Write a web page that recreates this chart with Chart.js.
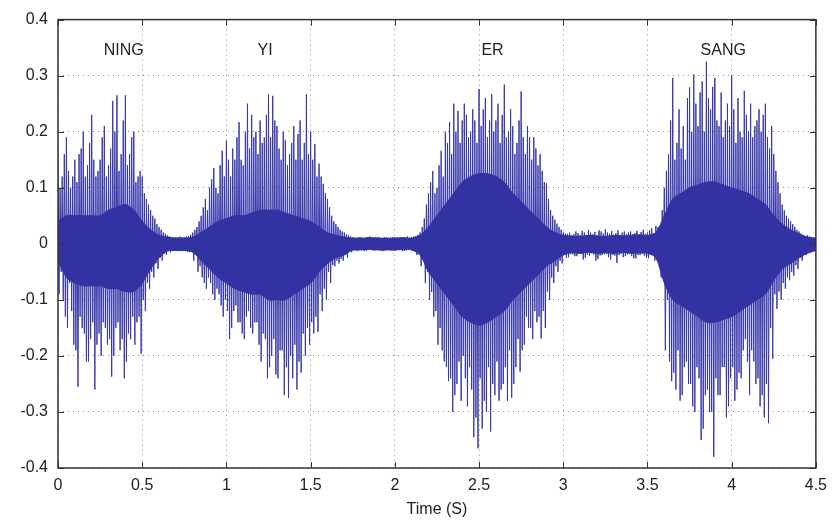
<!DOCTYPE html>
<html lang="en">
<head>
<meta charset="UTF-8" />
<title>NING YI ER SANG waveform</title>
<script src="https://cdn.jsdelivr.net/npm/chart.js"></script>
<style>
    * { margin: 0; padding: 0; box-sizing: border-box; }
    body { background: #fff; }
    #wrap { width: 835px; height: 523px; }
</style>
</head>
<body>
<div id="wrap"><canvas id="wave"></canvas></div>
<script>
// big peaks read every 0.025 s: upper at t, lower at t + 3/4 step
const STEP = 0.025;
const peakHi = [
    0.15, 0.12, 0.19, 0.10, 0.15, 0.16, 0.20, 0.14, 0.23, 0.12,
    0.15, 0.21, 0.14, 0.255, 0.265, 0.16, 0.265, 0.16, 0.20, 0.12,
    0.12, 0.08, 0.06, 0.045, 0.03, 0.02, 0.015, 0.012, 0.012, 0.013,
    0.012, 0.014, 0.02, 0.03, 0.05, 0.08, 0.10, 0.135, 0.09, 0.166,
    0.184, 0.12, 0.15, 0.217, 0.14, 0.25, 0.23, 0.20, 0.22, 0.19,
    0.267, 0.264, 0.21, 0.15, 0.185, 0.16, 0.21, 0.196, 0.15, 0.267,
    0.20, 0.178, 0.143, 0.107, 0.08, 0.05, 0.035, 0.025, 0.02, 0.015,
    0.012, 0.011, 0.012, 0.010, 0.013, 0.011, 0.012, 0.010, 0.012, 0.011,
    0.012, 0.010, 0.011, 0.013, 0.012, 0.014, 0.02, 0.045, 0.09, 0.13,
    0.10, 0.166, 0.20, 0.217, 0.25, 0.237, 0.22, 0.23, 0.20, 0.22,
    0.276, 0.24, 0.19, 0.267, 0.22, 0.18, 0.284, 0.20, 0.21, 0.18,
    0.272, 0.16, 0.19, 0.19, 0.14, 0.13, 0.108, 0.06, 0.043, 0.03,
    0.02, 0.018, 0.015, 0.022, 0.016, 0.02, 0.025, 0.017, 0.015, 0.022,
    0.026, 0.018, 0.016, 0.024, 0.02, 0.017, 0.022, 0.019, 0.016, 0.025,
    0.02, 0.028, 0.032, 0.025, 0.10, 0.16, 0.296, 0.18, 0.17, 0.15,
    0.279, 0.302, 0.21, 0.29, 0.325, 0.24, 0.296, 0.21, 0.19, 0.25,
    0.30, 0.18, 0.20, 0.273, 0.20, 0.19, 0.22, 0.20, 0.25, 0.17,
    0.16, 0.11, 0.07, 0.05, 0.04, 0.03, 0.022, 0.015, 0.015, 0.012,
    0.012
];
const peakLo = [
    -0.05, -0.13, -0.07, -0.18, -0.255, -0.15, -0.21, -0.17, -0.26, -0.16,
    -0.14, -0.18, -0.237, -0.15, -0.19, -0.24, -0.16, -0.13, -0.14, -0.196,
    -0.12, -0.08, -0.06, -0.045, -0.03, -0.02, -0.015, -0.012, -0.013, -0.012,
    -0.014, -0.013, -0.02, -0.04, -0.07, -0.06, -0.09, -0.08, -0.11, -0.10,
    -0.17, -0.12, -0.14, -0.16, -0.13, -0.15, -0.14, -0.18, -0.16, -0.24,
    -0.20, -0.233, -0.19, -0.27, -0.275, -0.24, -0.26, -0.23, -0.20, -0.18,
    -0.16, -0.157, -0.12, -0.10, -0.07, -0.04, -0.035, -0.03, -0.025, -0.015,
    -0.012, -0.011, -0.013, -0.010, -0.012, -0.011, -0.013, -0.012, -0.010, -0.012,
    -0.011, -0.013, -0.012, -0.010, -0.012, -0.014, -0.025, -0.05, -0.086, -0.12,
    -0.15, -0.21, -0.245, -0.30, -0.25, -0.28, -0.24, -0.22, -0.345, -0.365,
    -0.33, -0.30, -0.335, -0.27, -0.28, -0.25, -0.28, -0.275, -0.22, -0.228,
    -0.18, -0.15, -0.17, -0.14, -0.169, -0.15, -0.10, -0.07, -0.05, -0.035,
    -0.025, -0.018, -0.022, -0.016, -0.028, -0.02, -0.017, -0.03, -0.021, -0.018,
    -0.024, -0.02, -0.034, -0.018, -0.022, -0.017, -0.026, -0.02, -0.018, -0.025,
    -0.02, -0.03, -0.022, -0.03, -0.10, -0.245, -0.26, -0.28, -0.22, -0.25,
    -0.29, -0.22, -0.35, -0.27, -0.30, -0.38, -0.27, -0.22, -0.31, -0.24,
    -0.28, -0.23, -0.19, -0.21, -0.19, -0.25, -0.29, -0.31, -0.32, -0.205,
    -0.116, -0.10, -0.08, -0.065, -0.057, -0.045, -0.03, -0.02, -0.015, -0.012,
    -0.012
];

// smaller peaks in between: lower at t + 1/4 step, upper at t + 1/2 step
const midLo = [
    -0.09, -0.10, -0.15, -0.12, -0.19, -0.13, -0.16, -0.21, -0.14, -0.18,
    -0.20, -0.15, -0.17, -0.20, -0.14, -0.17, -0.21, -0.17, -0.18, -0.13,
    -0.10, -0.07, -0.05, -0.035, -0.025, -0.018, -0.013, -0.012, -0.012, -0.013,
    -0.012, -0.015, -0.03, -0.05, -0.06, -0.08, -0.07, -0.10, -0.09, -0.13,
    -0.12, -0.15, -0.11, -0.14, -0.17, -0.12, -0.16, -0.14, -0.21, -0.17,
    -0.22, -0.17, -0.24, -0.19, -0.22, -0.20, -0.18, -0.21, -0.16, -0.15,
    -0.14, -0.13, -0.09, -0.08, -0.05, -0.038, -0.03, -0.027, -0.02, -0.013,
    -0.012, -0.013, -0.011, -0.012, -0.011, -0.012, -0.011, -0.013, -0.011, -0.012,
    -0.012, -0.011, -0.013, -0.011, -0.013, -0.02, -0.04, -0.07, -0.10, -0.13,
    -0.18, -0.19, -0.22, -0.24, -0.27, -0.21, -0.20, -0.29, -0.26, -0.31,
    -0.24, -0.28, -0.22, -0.25, -0.21, -0.26, -0.22, -0.19, -0.25, -0.17,
    -0.19, -0.13, -0.15, -0.12, -0.13, -0.12, -0.085, -0.06, -0.04, -0.03,
    -0.02, -0.024, -0.019, -0.022, -0.018, -0.025, -0.021, -0.019, -0.027, -0.02,
    -0.018, -0.028, -0.021, -0.02, -0.024, -0.019, -0.022, -0.026, -0.02, -0.021,
    -0.026, -0.019, -0.027, -0.06, -0.19, -0.21, -0.23, -0.19, -0.27, -0.21,
    -0.25, -0.30, -0.24, -0.33, -0.26, -0.30, -0.24, -0.27, -0.22, -0.29,
    -0.22, -0.26, -0.24, -0.17, -0.27, -0.21, -0.24, -0.27, -0.25, -0.15,
    -0.09, -0.085, -0.07, -0.06, -0.05, -0.038, -0.025, -0.017, -0.013, -0.012
];
const midHi = [
    0.10, 0.16, 0.13, 0.12, 0.11, 0.17, 0.12, 0.18, 0.15, 0.13,
    0.19, 0.12, 0.17, 0.20, 0.13, 0.22, 0.14, 0.19, 0.11, 0.13,
    0.09, 0.07, 0.05, 0.035, 0.025, 0.018, 0.013, 0.011, 0.012, 0.012,
    0.013, 0.016, 0.025, 0.04, 0.065, 0.06, 0.115, 0.10, 0.14, 0.12,
    0.15, 0.17, 0.19, 0.15, 0.20, 0.17, 0.19, 0.16, 0.18, 0.23,
    0.19, 0.22, 0.17, 0.20, 0.14, 0.18, 0.15, 0.22, 0.18, 0.16,
    0.15, 0.12, 0.12, 0.09, 0.065, 0.04, 0.03, 0.022, 0.017, 0.013,
    0.011, 0.012, 0.010, 0.012, 0.011, 0.012, 0.011, 0.012, 0.010, 0.012,
    0.011, 0.012, 0.012, 0.011, 0.013, 0.016, 0.03, 0.07, 0.11, 0.09,
    0.14, 0.12, 0.18, 0.16, 0.20, 0.18, 0.25, 0.19, 0.24, 0.18,
    0.21, 0.26, 0.22, 0.20, 0.25, 0.23, 0.19, 0.24, 0.16, 0.22,
    0.19, 0.21, 0.15, 0.17, 0.16, 0.11, 0.08, 0.05, 0.036, 0.025,
    0.018, 0.02, 0.017, 0.019, 0.023, 0.016, 0.02, 0.021, 0.024, 0.018,
    0.02, 0.023, 0.019, 0.016, 0.022, 0.02, 0.017, 0.023, 0.021, 0.018,
    0.024, 0.019, 0.03, 0.06, 0.13, 0.22, 0.15, 0.24, 0.21, 0.26,
    0.20, 0.25, 0.27, 0.20, 0.26, 0.28, 0.22, 0.27, 0.22, 0.21,
    0.24, 0.26, 0.19, 0.23, 0.25, 0.21, 0.24, 0.23, 0.19, 0.21,
    0.13, 0.09, 0.06, 0.045, 0.035, 0.025, 0.018, 0.014, 0.013, 0.011
];

// solid inner band, read every 0.05 s
const CORE_STEP = 0.05;
const coreHi = [
    0.04, 0.05, 0.05, 0.05, 0.05, 0.05, 0.06, 0.065, 0.07, 0.06,
    0.04, 0.025, 0.015, 0.012, 0.01, 0.01, 0.012, 0.02, 0.03, 0.04,
    0.045, 0.05, 0.05, 0.055, 0.06, 0.06, 0.06, 0.055, 0.05, 0.045,
    0.04, 0.03, 0.02, 0.015, 0.012, 0.01, 0.01, 0.011, 0.01, 0.01,
    0.01, 0.011, 0.01, 0.015, 0.03, 0.05, 0.07, 0.09, 0.11, 0.12,
    0.125, 0.125, 0.12, 0.11, 0.09, 0.075, 0.06, 0.045, 0.03, 0.02,
    0.015, 0.014, 0.013, 0.015, 0.014, 0.013, 0.015, 0.014, 0.015, 0.016,
    0.015, 0.02, 0.05, 0.08, 0.09, 0.10, 0.105, 0.11, 0.11, 0.105,
    0.10, 0.095, 0.09, 0.08, 0.07, 0.05, 0.035, 0.025, 0.018, 0.012,
    0.01
];
const coreLo = [
    -0.03, -0.06, -0.07, -0.075, -0.075, -0.075, -0.08, -0.08, -0.085, -0.085,
    -0.07, -0.045, -0.025, -0.013, -0.012, -0.012, -0.015, -0.03, -0.045, -0.06,
    -0.07, -0.08, -0.085, -0.09, -0.09, -0.10, -0.10, -0.10, -0.09, -0.08,
    -0.07, -0.05, -0.035, -0.025, -0.02, -0.011, -0.011, -0.01, -0.011, -0.011,
    -0.011, -0.01, -0.011, -0.02, -0.05, -0.07, -0.09, -0.11, -0.13, -0.14,
    -0.145, -0.14, -0.13, -0.12, -0.10, -0.085, -0.07, -0.055, -0.04, -0.03,
    -0.02, -0.016, -0.017, -0.015, -0.017, -0.016, -0.017, -0.015, -0.017, -0.016,
    -0.017, -0.025, -0.07, -0.10, -0.11, -0.12, -0.13, -0.14, -0.14, -0.135,
    -0.13, -0.12, -0.11, -0.10, -0.09, -0.065, -0.045, -0.035, -0.025, -0.017,
    -0.012
];

const syllables = ['NING', 'YI', 'ER', 'SANG'];
const syllableTimes = [0.39, 1.23, 2.58, 3.95];
const syllableLevel = 0.345;

const WAVE = 'rgb(56, 56, 170)';
const CORE = 'rgb(50, 50, 162)';
const FONT = '"Liberation Sans", Arial, sans-serif';

// one zigzag through all readings in time order
const spikePoints = [];
peakHi.forEach((v, i) => {
    const t = i * STEP;
    spikePoints.push({ x: t, y: v });
    if (i < midHi.length) {
        spikePoints.push({ x: t + STEP / 4, y: midLo[i] });
        spikePoints.push({ x: t + STEP / 2, y: midHi[i] });
        spikePoints.push({ x: t + STEP * 3 / 4, y: peakLo[i] });
    } else {
        spikePoints.push({ x: t, y: peakLo[i] });
    }
});
const coreTop = coreHi.map((v, i) => ({ x: i * CORE_STEP, y: v }));
const coreBottom = coreLo.map((v, i) => ({ x: i * CORE_STEP, y: v }));

// box, inward tick marks and syllable names
const decor = {
    id: 'decor',
    afterDatasetsDraw(chart) {
        const { ctx, chartArea: a, scales } = chart;
        ctx.save();
        ctx.strokeStyle = '#333';
        ctx.lineWidth = 1;
        ctx.beginPath();
        scales.x.ticks.forEach(t => {
            const px = Math.round(scales.x.getPixelForValue(t.value)) + 0.5;
            ctx.moveTo(px, a.bottom); ctx.lineTo(px, a.bottom - 6);
            ctx.moveTo(px, a.top); ctx.lineTo(px, a.top + 6);
        });
        scales.y.ticks.forEach(t => {
            const py = Math.round(scales.y.getPixelForValue(t.value)) + 0.5;
            ctx.moveTo(a.left, py); ctx.lineTo(a.left + 6, py);
            ctx.moveTo(a.right, py); ctx.lineTo(a.right - 6, py);
        });
        ctx.stroke();
        ctx.lineWidth = 1.5;
        ctx.strokeRect(a.left, a.top, a.right - a.left, a.bottom - a.top);

        ctx.fillStyle = '#222';
        ctx.font = '16px ' + FONT;
        ctx.textAlign = 'center';
        ctx.textBaseline = 'middle';
        syllables.forEach((s, i) => {
            ctx.fillText(s, scales.x.getPixelForValue(syllableTimes[i]), scales.y.getPixelForValue(syllableLevel));
        });
        ctx.restore();
    }
};

new Chart(document.getElementById('wave'), {
    type: 'line',
    data: {
        datasets: [
            {
                data: coreTop,
                borderColor: CORE,
                borderWidth: 1,
                backgroundColor: CORE,
                fill: '+1',
                pointRadius: 0,
                tension: 0.3
            },
            {
                data: coreBottom,
                borderColor: CORE,
                borderWidth: 1,
                pointRadius: 0,
                fill: false,
                tension: 0.3
            },
            {
                data: spikePoints,
                borderColor: WAVE,
                borderWidth: 1,
                pointRadius: 0,
                fill: false,
                tension: 0
            }
        ]
    },
    options: {
        responsive: true,
        maintainAspectRatio: false,
        animation: false,
        events: [],
        layout: { padding: { left: 0, right: 19, top: 15, bottom: 0 } },
        plugins: {
            legend: { display: false },
            tooltip: { enabled: false }
        },
        scales: {
            x: {
                type: 'linear',
                min: 0,
                max: 4.5,
                afterFit: s => { s.height = 55; },
                ticks: {
                    stepSize: 0.5,
                    color: '#222',
                    padding: 8,
                    maxRotation: 0,
                    font: { family: FONT, size: 16 },
                    callback: v => String(Math.round(v * 10) / 10)
                },
                grid: { color: '#8a8a8a', drawTicks: false },
                border: { display: false, dash: [1, 4] },
                title: {
                    display: true,
                    text: 'Time (S)',
                    color: '#222',
                    padding: { top: 0, bottom: 4 },
                    font: { family: FONT, size: 16 }
                }
            },
            y: {
                min: -0.4,
                max: 0.4,
                afterFit: s => { s.width = 58; },
                ticks: {
                    stepSize: 0.1,
                    color: '#222',
                    padding: 10,
                    font: { family: FONT, size: 16 },
                    callback: v => String(Math.round(v * 10) / 10)
                },
                grid: { color: '#8a8a8a', drawTicks: false },
                border: { display: false, dash: [1, 4] }
            }
        }
    },
    plugins: [decor]
});
</script>
</body>
</html>
